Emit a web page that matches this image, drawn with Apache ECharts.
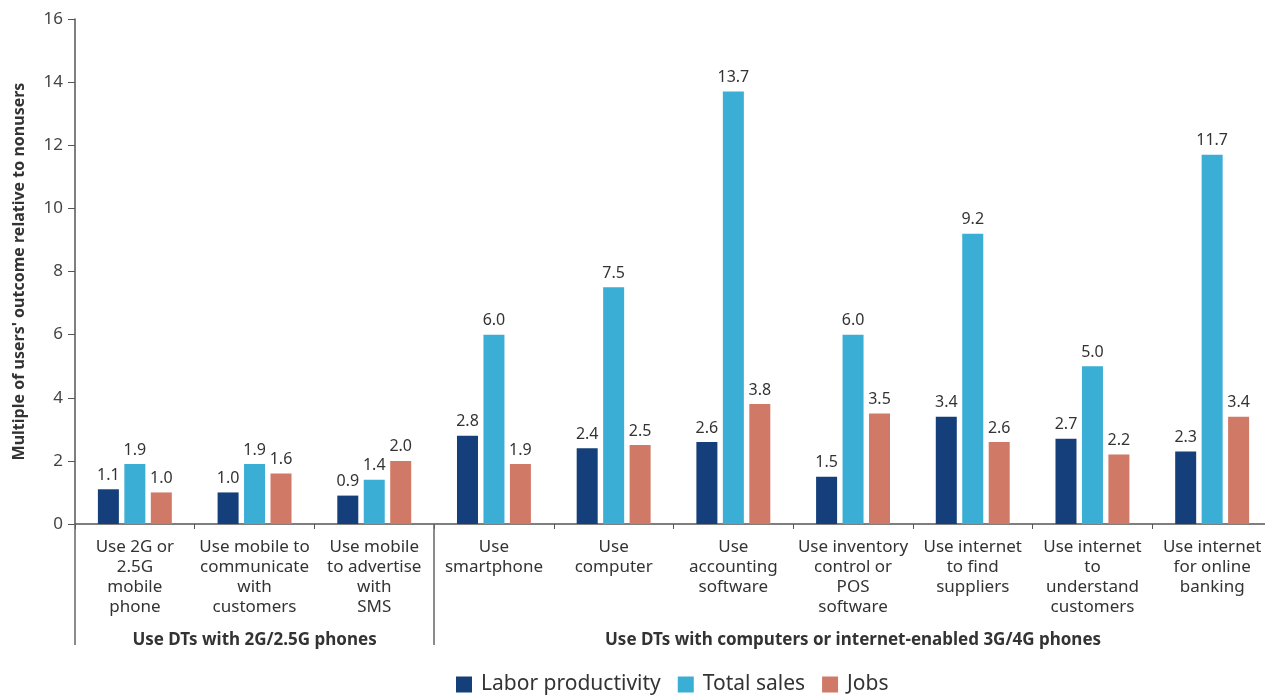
<!DOCTYPE html>
<html><head><meta charset="utf-8">
<script src="https://cdn.jsdelivr.net/npm/echarts@6/dist/echarts.min.js"></script>
<style>html,body{margin:0;padding:0;background:#fff}#c{width:1265px;height:695px}</style>
</head><body><div id="c"></div>
<script>
const categories = [
  'Use 2G or\n2.5G\nmobile\nphone',
  'Use mobile to\ncommunicate\nwith\ncustomers',
  'Use mobile\nto advertise\nwith\nSMS',
  'Use\nsmartphone',
  'Use\ncomputer',
  'Use\naccounting\nsoftware',
  'Use inventory\ncontrol or\nPOS\nsoftware',
  'Use internet\nto find\nsuppliers',
  'Use internet\nto\nunderstand\ncustomers',
  'Use internet\nfor online\nbanking'
];
const groupLabels = ['', 'Use DTs with 2G/2.5G phones', '', '', '', '', 'Use DTs with computers or internet-enabled 3G/4G phones', '', '', ''];
const groupStarts = [0, 3];
const laborProductivity = [1.1, 1.0, 0.9, 2.8, 2.4, 2.6, 1.5, 3.4, 2.7, 2.3];
const totalSales = [1.9, 1.9, 1.4, 6.0, 7.5, 13.7, 6.0, 9.2, 5.0, 11.7];
const jobs = [1.0, 1.6, 2.0, 1.9, 2.5, 3.8, 3.5, 2.6, 2.2, 3.4];
const yTicks = {min: 0, max: 16, interval: 2};

const FONT = 'Noto Sans';
const TXT = '#333';
const chart = echarts.init(document.getElementById('c'), null, {renderer: 'canvas'});
const lbl = {show: true, position: 'top', distance: 6, fontSize: 16, color: TXT, fontFamily: FONT, formatter: p => p.value.toFixed(1)};
function bar(name, data, color) {
  return {name, type: 'bar', data, xAxisIndex: 0, barWidth: 21, barGap: '26%',
    itemStyle: {color}, label: lbl};
}
chart.setOption({
  animation: false,
  textStyle: {fontFamily: FONT},
  grid: {left: 75, width: 1197, top: 19, bottom: 171, containLabel: false, outerBoundsMode: 'none'},
  legend: {
    left: 456, top: 674, padding: 0, itemWidth: 16, itemHeight: 16, itemGap: 17,
    icon: 'rect',
    textStyle: {fontSize: 21, color: TXT, fontFamily: FONT, padding: [0, 0, 0, 4]},
    data: ['Labor productivity', 'Total sales', 'Jobs']
  },
  xAxis: [{
    type: 'category', data: categories, position: 'bottom',
    axisLine: {lineStyle: {color: '#555', width: 1.5}},
    axisTick: {show: true, length: 5, lineStyle: {color: '#555'}},
    axisLabel: {interval: 0, margin: 13, fontSize: 17, lineHeight: 20, color: TXT, fontFamily: FONT, align: 'center', verticalAlign: 'top'}
  }, {
    type: 'category', data: groupLabels, position: 'bottom',
    axisLine: {show: false},
    axisTick: {show: true, length: 121, interval: (i) => groupStarts.indexOf(i) >= 0, lineStyle: {color: '#666', width: 1.5}},
    axisLabel: {interval: 0, margin: 108, fontSize: 17, fontWeight: 'bold', color: TXT, fontFamily: FONT, verticalAlign: 'top'}
  }],
  yAxis: {
    type: 'value', min: yTicks.min, max: yTicks.max, interval: yTicks.interval,
    name: "Multiple of users' outcome relative to nonusers", nameLocation: 'middle', nameRotate: 90, nameGap: 48,
    nameTextStyle: {fontSize: 16, fontWeight: 'bold', color: TXT, fontFamily: FONT},
    axisLine: {show: true, lineStyle: {color: '#555', width: 1.5}},
    axisTick: {show: true, length: 7, lineStyle: {color: '#555'}},
    splitLine: {show: false},
    axisLabel: {fontSize: 17, color: '#444', margin: 12, fontFamily: FONT}
  },
  series: [
    bar('Labor productivity', laborProductivity, '#143F7A'),
    bar('Total sales', totalSales, '#3AAED5'),
    bar('Jobs', jobs, '#D07967')
  ]
});
</script></body></html>
